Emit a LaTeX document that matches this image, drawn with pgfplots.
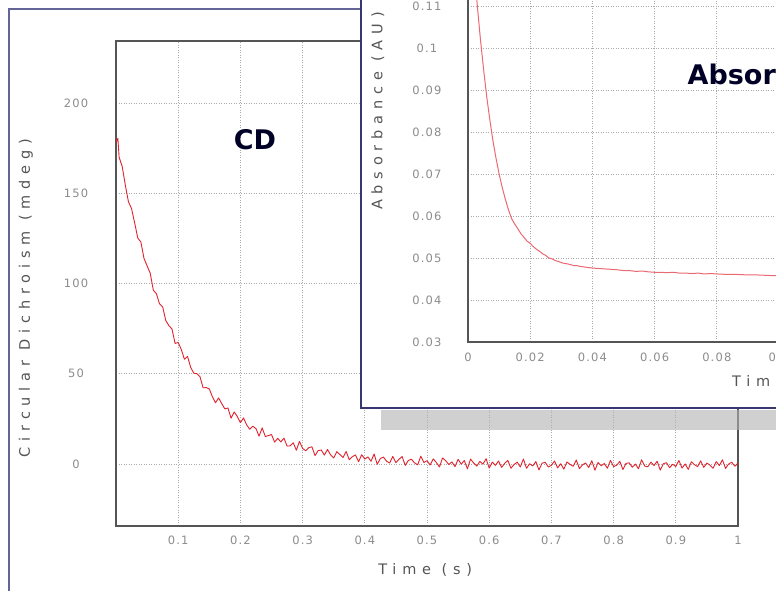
\documentclass[border=0pt]{standalone}
\usepackage{fontspec}
\setmainfont{DejaVu Sans}
\newfontfamily\lblfont[LetterSpace=40]{DejaVu Sans}
\newfontfamily\tickfont[LetterSpace=10]{DejaVu Sans}
\usepackage{pgfplots}
\pgfplotsset{compat=1.18}

\definecolor{navy}{RGB}{55,55,115}
\definecolor{winframe}{RGB}{100,100,150}
\definecolor{axgray}{RGB}{85,85,85}
\definecolor{gridgray}{RGB}{170,170,170}
\definecolor{tickgray}{RGB}{140,140,140}
\definecolor{cdred}{RGB}{225,35,45}
\definecolor{absred}{RGB}{235,105,115}

\pgfplotsset{
  winplot/.style={
    scale only axis,
    axis line style={axgray, line width=2pt},
    grid=major,
    major grid style={gridgray, dash pattern=on 1pt off 1.5pt, line width=0.8pt},
    major tick length=0pt,
    tick label style={font=\tickfont\fontsize{11.5}{13}\selectfont, text=tickgray},
    /pgf/number format/assume math mode=true,
    label style={font=\lblfont\fontsize{14.5}{16}\selectfont, text=axgray},
  }
}

\begin{document}
\begin{tikzpicture}[x=1pt,y=1pt]
\path[use as bounding box] (0,0) rectangle (776,591);
\clip (0,0) rectangle (776,591);
\fill[white] (0,0) rectangle (776,591);
% background window frame
\draw[winframe, line width=2pt] (9,-5) -- (9,582) -- (790,582);

% ---- CD chart (back window)
\begin{axis}[winplot,
  at={(116pt,65pt)}, anchor=south west,
  width=622pt, height=485pt,
  xmin=0, xmax=1, ymin=-34.4, ymax=234.4,
  xtick={0.1,0.2,0.3,0.4,0.5,0.6,0.7,0.8,0.9,1},
  ytick={0,50,100,150,200},
  xticklabel style={anchor=center, yshift=-14pt, /pgf/number format/fixed, /pgf/number format/precision=1},
  yticklabel style={anchor=center, xshift=-40pt},
  xlabel={Time (s)},
  ylabel={Circular Dichroism (mdeg)},
  xlabel style={at={(axis description cs:0.497,-0.091)}, anchor=center},
  ylabel style={at={(axis description cs:-0.145,0.47)}, anchor=center},
]
\addplot[cdred, line width=0.9pt, line join=round] coordinates {
(0.000,178.0) (0.003,180.5) (0.005,170.0) (0.010,164.8) (0.015,154.5)
(0.020,145.3) (0.025,141.5) (0.030,133.6) (0.035,125.2) (0.040,123.0)
(0.045,113.9) (0.050,109.8) (0.055,105.7) (0.060,96.3) (0.065,94.3)
(0.070,88.7) (0.075,87.1) (0.080,79.5) (0.085,76.7) (0.090,74.8)
(0.095,66.8) (0.100,67.3) (0.105,63.4) (0.110,58.0) (0.115,59.6)
(0.120,53.6) (0.125,50.3) (0.130,50.0) (0.135,48.4) (0.140,42.2)
(0.145,42.3) (0.150,41.6) (0.155,37.2) (0.160,33.9) (0.165,36.6)
(0.170,33.4) (0.175,30.5) (0.180,31.0) (0.185,25.3) (0.190,28.8)
(0.195,26.3) (0.200,22.9) (0.205,25.5) (0.210,21.7) (0.215,19.2)
(0.220,20.9) (0.225,19.6) (0.230,15.4) (0.235,20.0) (0.240,15.2)
(0.245,15.7) (0.250,16.3) (0.255,12.1) (0.260,14.2) (0.265,12.2)
(0.270,14.3) (0.275,9.9) (0.280,10.0) (0.285,11.7) (0.290,7.6)
(0.295,12.5) (0.300,8.6) (0.305,7.3) (0.310,9.0) (0.315,9.5)
(0.320,4.6) (0.325,7.4) (0.330,7.7) (0.335,4.9) (0.340,8.0)
(0.345,5.0) (0.350,3.3) (0.355,6.8) (0.360,5.2) (0.365,3.6)
(0.370,6.9) (0.375,2.3) (0.380,4.0) (0.385,5.0) (0.390,1.2)
(0.395,5.1) (0.400,2.7) (0.405,3.9) (0.410,1.5) (0.415,5.5)
(0.420,-0.2) (0.425,3.0) (0.430,3.8) (0.435,1.5) (0.440,0.5)
(0.445,4.2) (0.450,0.7) (0.455,2.6) (0.460,4.1) (0.465,-0.8)
(0.470,1.9) (0.475,2.6) (0.480,0.6) (0.485,-0.5) (0.490,4.3)
(0.495,0.8) (0.500,1.8) (0.505,-0.6) (0.510,2.8) (0.515,0.8)
(0.520,-1.7) (0.525,3.3) (0.530,1.8) (0.535,-0.3) (0.540,1.1)
(0.545,-1.5) (0.550,2.6) (0.555,-0.1) (0.560,1.9) (0.565,-2.7)
(0.570,2.7) (0.575,0.5) (0.580,-1.2) (0.585,1.4) (0.590,-0.1)
(0.595,2.9) (0.600,-2.3) (0.605,1.0) (0.610,-0.8) (0.615,1.6)
(0.620,-1.9) (0.625,0.4) (0.630,1.9) (0.635,-2.4) (0.640,-0.3)
(0.645,1.0) (0.650,-1.7) (0.655,2.7) (0.660,-2.4) (0.665,0.1)
(0.670,-1.1) (0.675,1.3) (0.680,-3.3) (0.685,0.4) (0.690,0.9)
(0.695,-1.7) (0.700,-0.8) (0.705,1.6) (0.710,-2.2) (0.715,0.1)
(0.720,-2.9) (0.725,1.1) (0.730,-0.3) (0.735,-1.3) (0.740,2.2)
(0.745,-2.6) (0.750,-0.5) (0.755,0.5) (0.760,-2.0) (0.765,1.8)
(0.770,-3.5) (0.775,0.8) (0.780,-1.0) (0.785,0.2) (0.790,-2.4)
(0.795,2.0) (0.800,-1.5) (0.805,-0.7) (0.810,1.4) (0.815,-3.1)
(0.820,0.3) (0.825,0.6) (0.830,-1.8) (0.835,-0.1) (0.840,-2.7)
(0.845,2.3) (0.850,-1.2) (0.855,-1.6) (0.860,1.0) (0.865,-0.9)
(0.870,1.5) (0.875,-3.4) (0.880,0.1) (0.885,0.7) (0.890,-2.1)
(0.895,-0.2) (0.900,-1.4) (0.905,1.9) (0.910,-2.3) (0.915,0.0)
(0.920,-3.0) (0.925,1.2) (0.930,-0.4) (0.935,-1.5) (0.940,1.7)
(0.945,-1.9) (0.950,0.5) (0.955,-0.7) (0.960,-2.4) (0.965,1.3)
(0.970,-0.9) (0.975,2.3) (0.980,-2.5) (0.985,0.0) (0.990,0.9)
(0.995,-1.3) (1.000,0.5)
};
\node[font=\bfseries\fontsize{27}{30}\selectfont, text=black!85!blue] at (axis cs:0.2235,179.5) {CD};
\end{axis}

% shadow and front window
\fill[gray!60, opacity=0.6] (381,161) rectangle (790,181);
\fill[white] (361,183) rectangle (790,600);
\draw[navy, line width=2pt] (361,600) -- (361,183) -- (790,183);

% ---- Absorbance chart (front window)
\begin{axis}[winplot,
  at={(468pt,249pt)}, anchor=south west,
  width=622pt, height=462pt,
  xmin=0, xmax=0.2, ymin=0.03, ymax=0.14,
  xtick={0,0.02,0.04,0.06,0.08,0.1,0.12,0.14,0.16,0.18,0.2},
  ytick={0.03,0.04,0.05,0.06,0.07,0.08,0.09,0.1,0.11,0.12,0.13,0.14},
  /pgf/number format/fixed, /pgf/number format/precision=2,
  xticklabel style={anchor=center, yshift=-15pt},
  yticklabel style={anchor=center, xshift=-41pt},
  xlabel={Time (s)},
  ylabel={Absorbance (AU)},
  xlabel style={at={(axis description cs:0.5,-0.087)}, anchor=center},
  ylabel style={at={(axis description cs:-0.145,0.5)}, anchor=center},
]
\addplot[absred, line width=1pt, line join=round] coordinates {
(0.000,0.1400) (0.001,0.1290) (0.002,0.1190) (0.003,0.1100) (0.004,0.1020)
(0.005,0.0950) (0.006,0.0885) (0.007,0.0830) (0.008,0.0780) (0.009,0.0738)
(0.010,0.0700) (0.011,0.0668) (0.012,0.0640) (0.013,0.0615) (0.014,0.0594)
(0.015,0.0581) (0.016,0.0570) (0.017,0.0558) (0.018,0.0549) (0.019,0.0540)
(0.020,0.0535) (0.021,0.0527) (0.022,0.0521) (0.023,0.0516) (0.024,0.0510)
(0.025,0.0506) (0.026,0.0500) (0.027,0.0498) (0.028,0.0494) (0.029,0.0492)
(0.030,0.0489) (0.031,0.0487) (0.032,0.0486) (0.033,0.0484) (0.034,0.0482)
(0.035,0.0482) (0.036,0.0480) (0.037,0.0479) (0.038,0.0478) (0.039,0.0477)
(0.040,0.0476) (0.042,0.0475) (0.044,0.0474) (0.046,0.0473) (0.048,0.0472)
(0.050,0.0470) (0.052,0.0470) (0.054,0.0468) (0.056,0.0469) (0.058,0.0467)
(0.060,0.0466) (0.062,0.0466) (0.064,0.0465) (0.066,0.0466) (0.068,0.0464)
(0.070,0.0464) (0.072,0.0463) (0.074,0.0464) (0.076,0.0462) (0.078,0.0463)
(0.080,0.0462) (0.083,0.0461) (0.086,0.0461) (0.089,0.0460) (0.092,0.0460)
(0.095,0.0459) (0.098,0.0458) (0.100,0.0458) (0.110,0.0457) (0.120,0.0456)
(0.140,0.0455) (0.170,0.0455) (0.200,0.0454)
};
\node[anchor=west, font=\bfseries\fontsize{27}{30}\selectfont, text=black!85!blue] at (axis cs:0.0695,0.0938) {Absorbance};
\end{axis}
\end{tikzpicture}
\end{document}
